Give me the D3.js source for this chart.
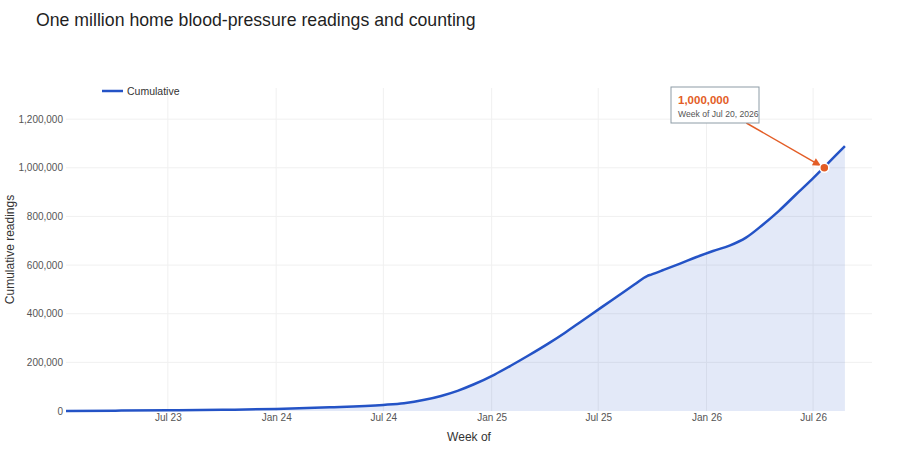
<!DOCTYPE html>
<html>
<head>
<meta charset="utf-8">
<script src="https://cdn.jsdelivr.net/npm/d3@7/dist/d3.min.js"></script>
<style>
  html, body { margin: 0; padding: 0; background: #fff; }
  svg { display: block; font-family: "Liberation Sans", Arial, Helvetica, sans-serif; }
</style>
</head>
<body>
<svg id="chart" width="900" height="450"></svg>
<script>
// ---- Data ----
const weeks = ["2023-01-09","2023-04-03","2023-07-03","2023-10-02","2024-01-01","2024-04-01",
  "2024-07-01","2024-08-05","2024-09-09","2024-10-07","2024-11-04","2024-12-02","2025-01-06",
  "2025-02-03","2025-03-03","2025-04-07","2025-05-05","2025-06-02","2025-07-07","2025-08-04",
  "2025-09-01","2025-09-15","2025-09-22","2025-09-29","2025-10-20","2025-11-17","2025-12-15",
  "2026-01-12","2026-02-09","2026-03-09","2026-04-06","2026-05-04","2026-06-01","2026-06-29",
  "2026-07-20","2026-08-10","2026-08-24"];
const cumulative = [500,1500,3000,5000,8500,15000,
  25000,32000,46000,62000,83000,110000,150000,
  187000,226000,277000,321000,368000,427000,474000,
  521000,545000,555000,561000,580000,606000,633000,
  658000,680000,713000,765000,823000,888000,952000,
  1003000,1055000,1089000];
const yTicks = [0,200000,400000,600000,800000,1000000,1200000];
const xTickDates = ["2023-07-01","2024-01-01","2024-07-01","2025-01-01","2025-07-01","2026-01-01","2026-07-01"];
const xTickLabels = ["Jul 23","Jan 24","Jul 24","Jan 25","Jul 25","Jan 26","Jul 26"];
const milestoneWeek = "2026-07-20";
const milestoneValue = 1000000;
const milestoneLabel = "1,000,000";
const milestoneSub = "Week of Jul 20, 2026";
const xDomain = ["2023-01-09","2026-10-09"];
const yDomain = [0, 1328000];

// ---- Layout ----
const svg = d3.select("#chart");
const L = 66, R = 872, T = 88, B = 411;
const parse = d3.utcParse("%Y-%m-%d");
const data = weeks.map((w, i) => ({ d: parse(w), v: cumulative[i] }));

const x = d3.scaleUtc().domain(xDomain.map(parse)).range([L, R]);
const y = d3.scaleLinear().domain(yDomain).range([B, T]);

const lineColor = "#2453c6";
const fillColor = "rgba(36,83,198,0.13)";
const accent = "#e35d26";

// Title
svg.append("text").attr("x", 36).attr("y", 26)
  .attr("font-size", 17.7).attr("fill", "#1f1f1f")
  .text("One million home blood-pressure readings and counting");

// Gridlines
const grid = svg.append("g");
grid.selectAll("line.h").data(yTicks.slice(1)).join("line")
  .attr("x1", L).attr("x2", R).attr("y1", d => y(d)).attr("y2", d => y(d))
  .attr("stroke", "#f0f0f0").attr("stroke-width", 1);
grid.selectAll("line.v").data(xTickDates).join("line")
  .attr("x1", d => x(parse(d))).attr("x2", d => x(parse(d)))
  .attr("y1", T).attr("y2", B)
  .attr("stroke", "#f0f0f0").attr("stroke-width", 1);

// Area + line
const curve = d3.curveMonotoneX;
svg.append("path").datum(data)
  .attr("d", d3.area().x(d => x(d.d)).y0(y(0)).y1(d => y(d.v)).curve(curve))
  .attr("fill", fillColor);
svg.append("path").datum(data)
  .attr("d", d3.line().x(d => x(d.d)).y(d => y(d.v)).curve(curve))
  .attr("fill", "none").attr("stroke", lineColor).attr("stroke-width", 2.5)
  .attr("stroke-linejoin", "round");

// Y axis
const yAxis = d3.axisLeft(y).tickValues(yTicks).tickSize(0).tickPadding(3)
  .tickFormat(d3.format(","));
const gy = svg.append("g").attr("transform", `translate(${L},0)`).call(yAxis);
gy.select(".domain").remove();
gy.selectAll("text").attr("font-size", 10).attr("fill", "#555")
  .attr("font-family", "Liberation Sans, Arial, sans-serif");

// X axis
const xAxis = d3.axisBottom(x).tickValues(xTickDates.map(parse)).tickSize(0).tickPadding(3)
  .tickFormat((d, i) => xTickLabels[i]);
const gx = svg.append("g").attr("transform", `translate(0,${B})`).call(xAxis);
gx.select(".domain").remove();
gx.selectAll("text").attr("font-size", 10).attr("fill", "#555")
  .attr("font-family", "Liberation Sans, Arial, sans-serif");

// Axis titles
svg.append("text").attr("x", (L + R) / 2).attr("y", 441).attr("text-anchor", "middle")
  .attr("font-size", 12).attr("fill", "#333").text("Week of");
svg.append("text").attr("transform", `translate(14,${(T + B) / 2}) rotate(-90)`)
  .attr("text-anchor", "middle").attr("font-size", 12).attr("fill", "#333")
  .text("Cumulative readings");

// Legend
svg.append("line").attr("x1", 102).attr("x2", 123).attr("y1", 91).attr("y2", 91)
  .attr("stroke", lineColor).attr("stroke-width", 2.5);
svg.append("text").attr("x", 127).attr("y", 95).attr("font-size", 10.5).attr("fill", "#333")
  .text("Cumulative");

// Annotation
const px = x(parse(milestoneWeek)), py = y(milestoneValue);
const box = { x: 671, y: 87, w: 88, h: 36 };
const cx = box.x + box.w / 2, cy = box.y + box.h / 2;
const dx = px - cx, dy = py - cy;
const tEdge = (box.h / 2) / dy;
const sx = cx + dx * tEdge, sy = cy + dy * tEdge;
const len = Math.hypot(px - sx, py - sy);
const ux = (px - sx) / len, uy = (py - sy) / len;
const standoff = 4;
const ex = px - ux * standoff, ey = py - uy * standoff;
svg.append("line").attr("x1", sx).attr("y1", sy).attr("x2", ex - ux * 5).attr("y2", ey - uy * 5)
  .attr("stroke", accent).attr("stroke-width", 1.5);
const ah = 8, aw = 4;
const bx = ex - ux * ah, by = ey - uy * ah;
svg.append("path")
  .attr("d", `M${ex},${ey} L${bx - uy * aw},${by + ux * aw} L${bx + uy * aw},${by - ux * aw} Z`)
  .attr("fill", accent);
svg.append("circle").attr("cx", px).attr("cy", py).attr("r", 4.5)
  .attr("fill", accent).attr("stroke", "#fff").attr("stroke-width", 1.5);

svg.append("rect").attr("x", box.x).attr("y", box.y).attr("width", box.w).attr("height", box.h)
  .attr("fill", "#fff").attr("stroke", "#8d9ca6").attr("stroke-width", 1);
svg.append("text").attr("x", box.x + 7).attr("y", box.y + 17)
  .attr("font-size", 11.5).attr("font-weight", "bold").attr("fill", accent).text(milestoneLabel);
svg.append("text").attr("x", box.x + 7).attr("y", box.y + 30)
  .attr("font-size", 8.6).attr("fill", "#555").text(milestoneSub);
</script>
</body>
</html>
